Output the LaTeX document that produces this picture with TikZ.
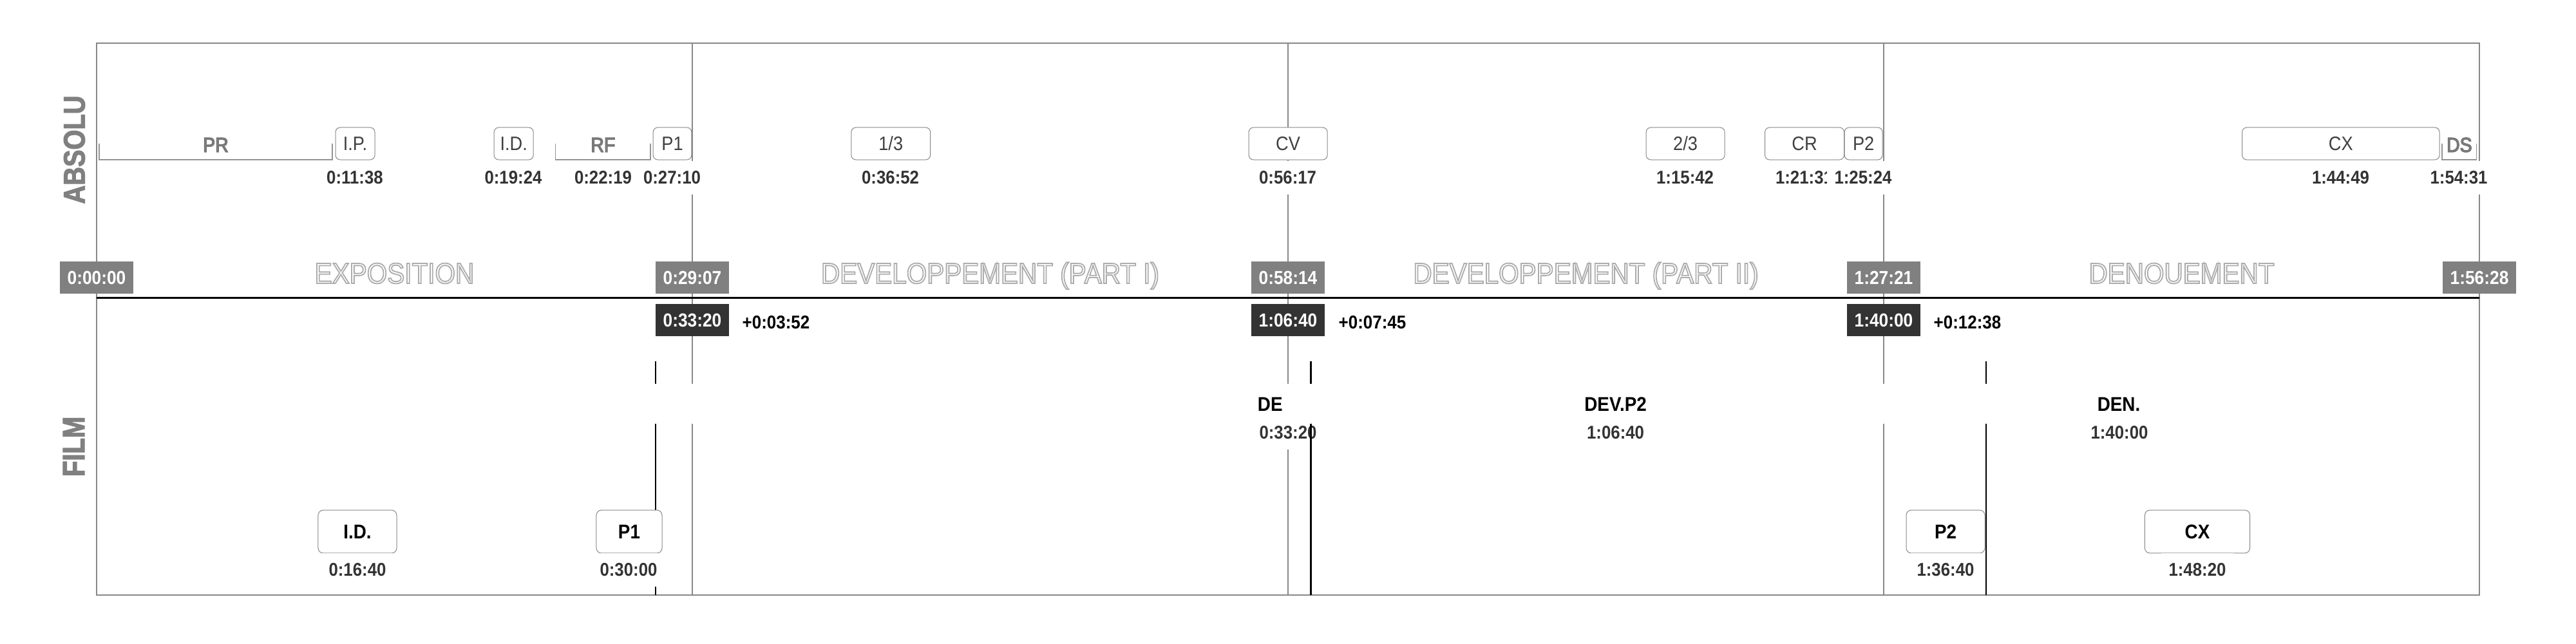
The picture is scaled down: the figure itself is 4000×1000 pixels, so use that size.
\documentclass[tikz,border=0pt]{standalone}
\usepackage{fontspec}
\setmainfont{Liberation Sans}[FakeStretch=0.9]
\usepackage{graphicx}
\newcommand*\pxu{0.025cm}
\newcommand\outlinetext[1]{\special{pdf:literal direct 1 Tr 1.3 w}#1\special{pdf:literal direct 0 Tr}}
\newcommand\edgetext[2]{\special{pdf:literal direct 2 Tr #1 w 0.45 G}#2\special{pdf:literal direct 0 Tr}}
\newcommand\heavytext[2]{\special{pdf:literal direct 2 Tr #1 w}#2\special{pdf:literal direct 0 Tr}}
\definecolor{cframe}{HTML}{888888}
\definecolor{cbox}{HTML}{808080}
\definecolor{cdark}{HTML}{333333}
\definecolor{ctxt}{HTML}{404040}
\definecolor{coutl}{HTML}{ADADAD}
\begin{document}
\begin{tikzpicture}[x=\pxu, y=-\pxu,
  frameline/.style={draw=cframe, line width=0.05cm},
  bracket/.style={draw=cframe!90, line width=0.033cm},
  filmline/.style={draw=black, line width=0.0675cm},
  tbox/.style={draw=cframe, line width=0.025cm, rounded corners=0.18cm, fill=white,
    minimum height=1.25cm, inner sep=0pt, text=ctxt, font=\fontsize{21.5}{25}\selectfont, anchor=west},
  fbox/.style={draw=cframe, line width=0.025cm, rounded corners=0.2cm, fill=white,
    minimum height=1.67cm, inner sep=0pt, text=black, font=\fontsize{22}{26}\selectfont\bfseries},
  tlab/.style={fill=white, minimum height=1.3cm, inner xsep=0.3cm, inner ysep=0pt,
    text=cdark, font=\fontsize{20.4}{24}\selectfont\bfseries},
  glab/.style={text=cbox, font=\fontsize{22.5}{26}\selectfont, inner sep=0pt},
  abox/.style={fill=cbox, text=white, minimum width=2.85cm, minimum height=1.25cm, inner sep=0pt,
    font=\fontsize{20.8}{24}\selectfont\bfseries},
  dbox/.style={abox, fill=cdark},
  delta/.style={text=black, font=\fontsize{20.5}{24}\selectfont\bfseries, inner sep=0pt},
  otext/.style={text=coutl, font=\fontsize{32}{36}\selectfont, inner sep=0pt, anchor=base},
  fphase/.style={text=black, font=\fontsize{22}{26}\selectfont\bfseries, inner sep=0pt},
  side/.style={text=cbox, inner sep=0pt, rotate=90}
]
\useasboundingbox[fill=white] (0,0) rectangle (4000,1000);

% frame and segment lines
\draw[frameline] (150,66.7) rectangle (3850,924);
\foreach \xx in {1075,2000,2925}{\draw[frameline] (\xx,66.7) -- (\xx,924);}
\draw[black, line width=0.075cm] (150,462.5) -- (3850,462.5);

% brackets and gray labels
\draw[bracket] (154,223) -- (154,248) -- (516,248) -- (516,223);
\node[glab] (lPR) at (335,225) {\edgetext{0.9}{PR}};
\draw[bracket] (862.8,223) -- (862.8,248) -- (1010,248) -- (1010,223);
\node[glab] (lRF) at (936.4,225) {\edgetext{0.9}{RF}};
\draw[bracket] (3792,223) -- (3792,248) -- (3845.6,248) -- (3845.6,223);
\node[glab] (lDS) at (3818.8,225) {\edgetext{0.9}{DS}};

% top boxes
\node[tbox, minimum width=1.525cm] (bIP) at (520.5,223) {I.P.};
\node[tbox, minimum width=1.525cm] (bID) at (766.7,223) {I.D.};
\node[tbox, minimum width=1.49cm] (bP1) at (1013.7,223) {P1};
\node[tbox, minimum width=3.07cm] (b13) at (1321.3,223) {1/3};
\node[tbox, minimum width=3.05cm] (bCV) at (1938.6,223) {CV};
\node[tbox, minimum width=3.05cm] (b23) at (2555.6,223) {2/3};
\node[tbox, minimum width=3.075cm] (bCR) at (2740,223) {CR};
\node[tbox, minimum width=1.475cm] (bP2) at (2863.6,223) {P2};
\node[tbox, minimum width=7.66cm] (bCX) at (3481,223) {CX};

% top time labels
\node[tlab] (tIP) at (551,276) {0:11:38};
\node[tlab] (tID) at (797,276) {0:19:24};
\node[tlab] (tRF) at (936.5,276) {0:22:19};
\node[tlab] (tP1) at (1043.5,276) {0:27:10};
\node[tlab] (t13) at (1382.6,276) {0:36:52};
\node[tlab] (tCV) at (1999.6,276) {0:56:17};
\node[tlab] (t23) at (2616.6,276) {1:15:42};
\node[tlab] (tCR) at (2801.5,276) {1:21:31};
\node[tlab] (tP2) at (2893,276) {1:25:24};
\node[tlab] (tCX) at (3634.5,276) {1:44:49};
\node[tlab] (tDS) at (3818,276) {1:54:31};

% phase titles
\node[otext] (ph1) at (612.5,440) {\outlinetext{EXPOSITION}};
\node[otext] (ph2) at (1537.5,440) {\outlinetext{DEVELOPPEMENT (PART I)}};
\node[otext] (ph3) at (2462.5,440) {\outlinetext{DEVELOPPEMENT (PART II)}};
\node[otext] (ph4) at (3387.5,440) {\outlinetext{DENOUEMENT}};

% axis boxes
\node[abox] (a0) at (150,431) {0:00:00};
\node[abox] (a1) at (1075,431) {0:29:07};
\node[abox] (a2) at (2000,431) {0:58:14};
\node[abox] (a3) at (2925,431) {1:27:21};
\node[abox] (a4) at (3850,431) {1:56:28};
\node[dbox] (d1) at (1075,497) {0:33:20};
\node[dbox] (d2) at (2000,497) {1:06:40};
\node[dbox] (d3) at (2925,497) {1:40:00};
\node[delta] (e1) at (1205,501) {+0:03:52};
\node[delta] (e2) at (2131,501) {+0:07:45};
\node[delta] (e3) at (3055,501) {+0:12:38};

% film section
\node[tlab] (fdv1) at (2000,671.7) {0:33:20};
\draw[filmline] (1018,561) -- (1018,924);
\draw[filmline] (2035.5,561) -- (2035.5,924);
\draw[filmline] (3084,561) -- (3084,924);
\fill[white] (156,595.6) rectangle (3844,658);
\node[fphase, anchor=west] (pDE) at (1952.6,628) {DE};
\node[fphase] (pDV2) at (2508.6,628) {DEV.P2};
\node[fphase] (pDEN) at (3290,628) {DEN.};
\node[tlab] (fdv2) at (2508.6,671.7) {1:06:40};
\node[tlab] (fden) at (3291,671.7) {1:40:00};

\node[fbox, minimum width=3.05cm] (fID) at (555,825.5) {I.D.};
\node[fbox, minimum width=2.55cm] (fP1) at (977,825.5) {P1};
\node[fbox, minimum width=3.05cm] (fP2) at (3021,825.5) {P2};
\node[fbox, minimum width=4.08cm] (fCX) at (3412,825.5) {CX};
\node[tlab] (gID) at (555,885) {0:16:40};
\node[tlab] (gP1) at (976,885) {0:30:00};
\node[tlab] (gP2) at (3021,885) {1:36:40};
\node[tlab] (gCX) at (3412,885) {1:48:20};

% side titles
\node[side] (sAbs) at (115.5,232.5) {\resizebox{4.2cm}{0.81cm}{\bfseries\heavytext{0.25}{ABSOLU}}};
\node[side] (sFilm) at (114.5,693.5) {\resizebox{2.325cm}{0.825cm}{\bfseries\heavytext{0.3}{FILM}}};
\end{tikzpicture}
\end{document}
